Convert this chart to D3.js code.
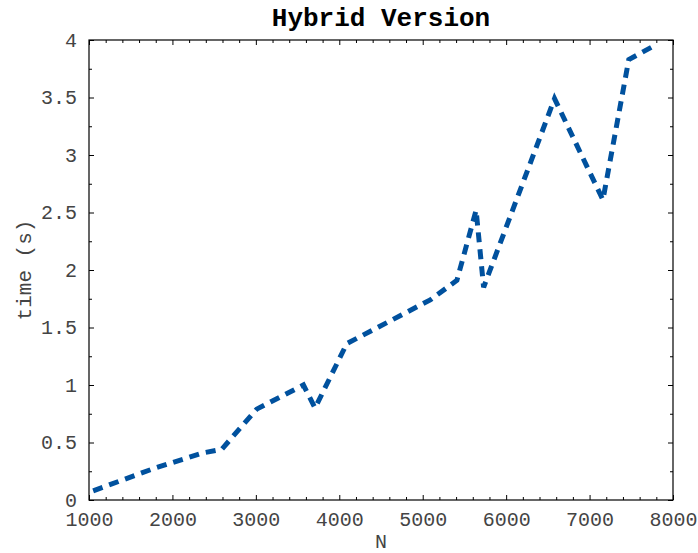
<!DOCTYPE html>
<html lang="en">
<head>
    <meta charset="UTF-8">
    <title>Hybrid Version</title>
    <script src="https://cdnjs.cloudflare.com/ajax/libs/d3/7.8.5/d3.min.js"></script>
    <style>
        body, html {
            margin: 0;
            padding: 0;
            background: #fff;
            overflow: hidden;
        }
        text {
            font-family: "Liberation Mono", "Courier New", monospace;
        }
    </style>
</head>
<body>
    <div id="chart"></div>
    <script>
        // values
        const nValues = [1050, 1800, 2370, 2590, 3010, 3570, 3710, 4090, 5090, 5410, 5640, 5730, 6580, 7160, 7470, 7800];
        const timeValues = [0.08, 0.28, 0.41, 0.44, 0.79, 1.00, 0.80, 1.36, 1.74, 1.91, 2.52, 1.85, 3.49, 2.61, 3.83, 3.96];

        const xTicks = [1000, 2000, 3000, 4000, 5000, 6000, 7000, 8000];
        const xTickLabels = ["1000", "2000", "3000", "4000", "5000", "6000", "7000", "8000"];
        const yTicks = [0, 0.5, 1, 1.5, 2, 2.5, 3, 3.5, 4];
        const yTickLabels = ["0", "0.5", "1", "1.5", "2", "2.5", "3", "3.5", "4"];

        const width = 698;
        const height = 553;
        const margin = {top: 40, right: 25, bottom: 53, left: 89};
        const w = width - margin.left - margin.right;
        const h = height - margin.top - margin.bottom;

        const svg = d3.select("#chart")
            .append("svg")
            .attr("width", width)
            .attr("height", height);

        const g = svg.append("g")
            .attr("transform", `translate(${margin.left},${margin.top})`);

        const x = d3.scaleLinear().domain([1000, 8000]).range([0, w]);
        const y = d3.scaleLinear().domain([0, 4]).range([h, 0]);

        const xMinor = d3.range(1000, 8001, 200).filter(v => v % 1000 !== 0);
        const yMinor = d3.range(0.25, 4, 0.5);

        // minor ticks, inward on all four sides
        g.append("g").attr("transform", `translate(0,${h})`)
            .call(d3.axisBottom(x).tickValues(xMinor).tickSize(-3).tickFormat(""));
        g.append("g")
            .call(d3.axisTop(x).tickValues(xMinor).tickSize(-3).tickFormat(""));
        g.append("g")
            .call(d3.axisLeft(y).tickValues(yMinor).tickSize(-3).tickFormat(""));
        g.append("g").attr("transform", `translate(${w},0)`)
            .call(d3.axisRight(y).tickValues(yMinor).tickSize(-3).tickFormat(""));

        // major ticks
        const xAxis = g.append("g").attr("transform", `translate(0,${h})`)
            .call(d3.axisBottom(x).tickValues(xTicks).tickSize(-5).tickPadding(12)
                .tickFormat((d, i) => xTickLabels[i]));
        g.append("g")
            .call(d3.axisTop(x).tickValues(xTicks).tickSize(-5).tickFormat(""));
        const yAxis = g.append("g")
            .call(d3.axisLeft(y).tickValues(yTicks).tickSize(-5).tickPadding(12)
                .tickFormat((d, i) => yTickLabels[i]));
        g.append("g").attr("transform", `translate(${w},0)`)
            .call(d3.axisRight(y).tickValues(yTicks).tickSize(-5).tickFormat(""));

        g.selectAll(".domain").remove();
        g.selectAll(".tick line").attr("stroke", "#000");

        xAxis.selectAll("text")
            .attr("font-size", 20)
            .attr("fill", "#444");
        yAxis.selectAll("text")
            .attr("font-size", 20)
            .attr("fill", "#444");

        // box
        g.append("rect")
            .attr("width", w)
            .attr("height", h)
            .attr("fill", "none")
            .attr("stroke", "#000")
            .attr("stroke-width", 1.2);

        const line = d3.line()
            .x((d, i) => x(nValues[i]))
            .y(d => y(d));

        g.append("path")
            .datum(timeValues)
            .attr("d", line)
            .attr("fill", "none")
            .attr("stroke", "#00519E")
            .attr("stroke-width", 5)
            .attr("stroke-dasharray", "10,7");

        svg.append("text")
            .attr("x", margin.left + w / 2)
            .attr("y", 26)
            .attr("text-anchor", "middle")
            .attr("font-size", 26)
            .attr("font-weight", "bold")
            .attr("fill", "#000")
            .text("Hybrid Version");

        svg.append("text")
            .attr("x", margin.left + w / 2)
            .attr("y", 548)
            .attr("text-anchor", "middle")
            .attr("font-size", 20)
            .attr("fill", "#444")
            .text("N");

        svg.append("text")
            .attr("transform", `translate(31,${margin.top + h / 2}) rotate(-90)`)
            .attr("text-anchor", "middle")
            .attr("font-size", 21)
            .attr("fill", "#444")
            .text("time (s)");
    </script>
</body>
</html>
